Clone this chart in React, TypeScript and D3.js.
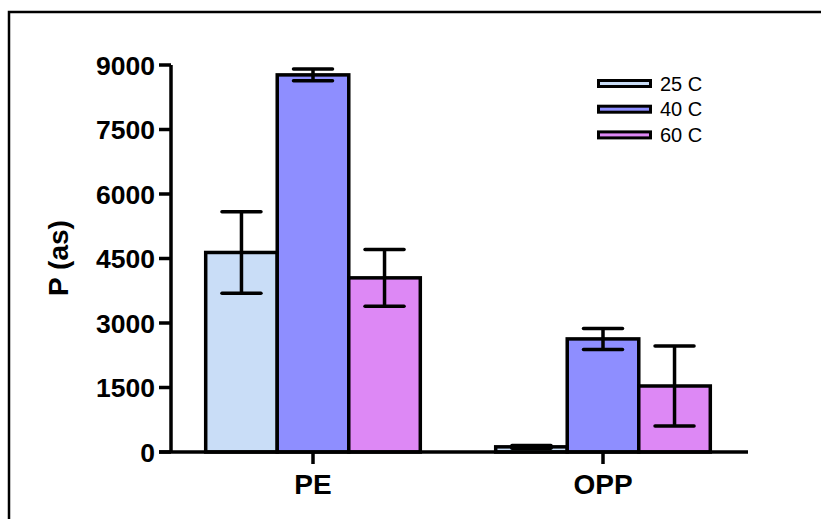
import React from "react";
import * as d3 from "d3";

const categories = ["PE", "OPP"];
const seriesNames = ["25 C", "40 C", "60 C"];
const seriesColors = ["#C9DDF7", "#8E8EFF", "#DD88F5"];
const means25 = [4640, 120];
const means40 = [8770, 2630];
const means60 = [4050, 1535];
const errs25 = [950, 30];
const errs40 = [135, 245];
const errs60 = [660, 930];
const yTicks = [0, 1500, 3000, 4500, 6000, 7500, 9000];

const W = 821;
const H = 519;
const FONT = "'Liberation Sans', Arial, Helvetica, sans-serif";

export default function App() {
  const means = [means25, means40, means60];
  const errs = [errs25, errs40, errs60];
  const y = d3.scaleLinear().domain([0, 9000]).range([452, 65]);
  const x = d3.scaleBand<string>().domain(categories).range([168, 748]).paddingInner(0.26).paddingOuter(0.13);
  const xs = d3.scaleBand<string>().domain(seriesNames).range([0, x.bandwidth()]);
  const axisX = 171;
  const capW = 39;

  return (
    <svg width={W} height={H} style={{ position: "absolute", left: 0, top: 0, background: "#fff" }}>
      <rect x={0} y={0} width={W} height={H} fill="#fff" />
      <path d={`M9,${H} L9,12 L${W},12`} fill="none" stroke="#000" strokeWidth={2.5} />
      {categories.map((c, ci) =>
        seriesNames.map((s, si) => {
          const bx = (x(c) ?? 0) + (xs(s) ?? 0);
          const bw = xs.bandwidth();
          const m = means[si][ci];
          const e = errs[si][ci];
          const cx = bx + bw / 2;
          return (
            <g key={c + s}>
              <rect x={bx} y={y(m)} width={bw} height={y(0) - y(m)} fill={seriesColors[si]} stroke="#000" strokeWidth={3.5} />
              <line x1={cx} x2={cx} y1={y(m + e)} y2={y(m - e)} stroke="#000" strokeWidth={3.5} />
              <line x1={cx - capW / 2} x2={cx + capW / 2} y1={y(m + e)} y2={y(m + e)} stroke="#000" strokeWidth={3.5} strokeLinecap="round" />
              <line x1={cx - capW / 2} x2={cx + capW / 2} y1={y(m - e)} y2={y(m - e)} stroke="#000" strokeWidth={3.5} strokeLinecap="round" />
            </g>
          );
        })
      )}
      <line x1={axisX} x2={axisX} y1={y(9000)} y2={y(0)} stroke="#000" strokeWidth={3.5} />
      {yTicks.map((t) => (
        <g key={t}>
          <line x1={159} x2={axisX} y1={y(t)} y2={y(t)} stroke="#000" strokeWidth={3.5} />
          <text x={155} y={y(t)} dy="0.36em" textAnchor="end" fontFamily={FONT} fontWeight="bold" fontSize={26.5}>
            {t}
          </text>
        </g>
      ))}
      <line x1={159} x2={748} y1={y(0)} y2={y(0)} stroke="#000" strokeWidth={3.5} />
      {categories.map((c) => {
        const cx = (x(c) ?? 0) + x.bandwidth() / 2;
        return (
          <g key={c}>
            <line x1={cx} x2={cx} y1={y(0)} y2={y(0) + 12} stroke="#000" strokeWidth={3.5} />
            <text x={cx} y={494} textAnchor="middle" fontFamily={FONT} fontWeight="bold" fontSize={28}>
              {c}
            </text>
          </g>
        );
      })}
      <text transform="translate(68,258) rotate(-90)" textAnchor="middle" fontFamily={FONT} fontWeight="bold" fontSize={28}>
        P (as)
      </text>
      {seriesNames.map((s, i) => {
        const cy = 83.5 + i * 25.7;
        return (
          <g key={s}>
            <rect x={598.5} y={cy - 3} width={52} height={6} fill={seriesColors[i]} stroke="#000" strokeWidth={3} />
            <text x={660} y={cy} dy="0.36em" fontFamily={FONT} fontSize={20}>
              {s}
            </text>
          </g>
        );
      })}
    </svg>
  );
}
